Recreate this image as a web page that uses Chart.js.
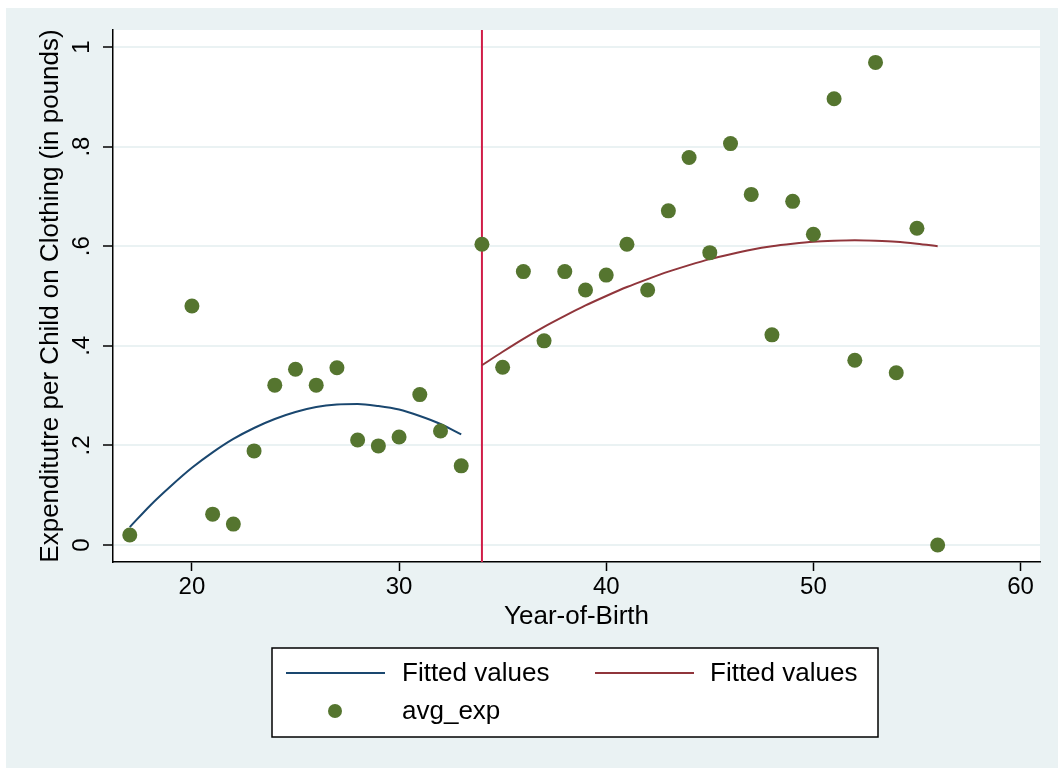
<!DOCTYPE html>
<html>
<head>
<meta charset="utf-8">
<script src="https://cdn.jsdelivr.net/npm/chart.js@4/dist/chart.umd.min.js"></script>
<style>
  html, body { margin: 0; padding: 0; background: #fff; }
  #wrap { width: 1058px; height: 768px; }
</style>
</head>
<body>
<div id="wrap"><canvas id="chart" width="1058" height="768"></canvas></div>
<script>
// data
const birthYears = [17, 20, 21, 22, 23, 24, 25, 26, 27, 28, 29, 30, 31, 32, 33,
  34, 35, 36, 37, 38, 39, 40, 41, 42, 43, 44, 45, 46, 47, 48, 49, 50, 51, 52, 53, 54, 55, 56];
const avgExp = [0.020, 0.480, 0.062, 0.042, 0.189, 0.321, 0.353, 0.321, 0.356, 0.211, 0.199, 0.217, 0.302, 0.229, 0.159,
  0.604, 0.357, 0.549, 0.410, 0.549, 0.512, 0.542, 0.604, 0.512, 0.671, 0.778, 0.587, 0.806, 0.704, 0.422,
  0.690, 0.624, 0.896, 0.371, 0.969, 0.346, 0.636, 0.000];

const fitYearsLeft = [17, 18, 19, 20, 21, 22, 23, 24, 25, 26, 27, 28, 29, 30, 31, 32, 33];
const fitLeft = [0.036, 0.080, 0.119, 0.155, 0.186, 0.213, 0.235, 0.253, 0.267, 0.277, 0.282, 0.283,
  0.279, 0.272, 0.259, 0.243, 0.222];

const fitYearsRight = [34, 35, 36, 37, 38, 39, 40, 41, 42, 43, 44, 45, 46, 47, 48, 49, 50, 51, 52, 53, 54, 55, 56];
const fitRight = [0.361, 0.388, 0.414, 0.438, 0.460, 0.481, 0.500, 0.518, 0.534, 0.549, 0.562, 0.574,
  0.584, 0.593, 0.600, 0.605, 0.609, 0.611, 0.612, 0.611, 0.609, 0.605, 0.600];

const cutoffYear = 34;
const xTicks = [20, 30, 40, 50, 60];
const yTicks = [0, 0.2, 0.4, 0.6, 0.8, 1];
const yTickLabels = ['0', '.2', '.4', '.6', '.8', '1'];

const FONT = "'Liberation Sans', Arial, sans-serif";
const BLUE = '#1a476f';
const MAROON = '#90353b';
const GREEN = '#55752f';
const XLINE = '#d01c47';
const BG = '#eaf2f3';

function pairs(xs, ys) {
  return xs.map((x, i) => ({ x: x, y: ys[i] }));
}

const bgPlugin = {
  id: 'bg',
  beforeDraw(chart) {
    const ctx = chart.ctx, a = chart.chartArea;
    ctx.save();
    ctx.fillStyle = '#fff';
    ctx.fillRect(0, 0, chart.width, chart.height);
    ctx.fillStyle = BG;
    ctx.fillRect(6, 8, chart.width - 6, chart.height - 8);
    ctx.fillStyle = '#fff';
    ctx.fillRect(a.left, a.top, a.right - a.left, a.bottom - a.top);
    ctx.restore();
  }
};

const cutoffPlugin = {
  id: 'cutoff',
  beforeDatasetsDraw(chart) {
    const ctx = chart.ctx, a = chart.chartArea;
    const px = chart.scales.x.getPixelForValue(cutoffYear);
    ctx.save();
    ctx.strokeStyle = XLINE;
    ctx.lineWidth = 2;
    ctx.beginPath();
    ctx.moveTo(px, a.top);
    ctx.lineTo(px, a.bottom);
    ctx.stroke();
    ctx.restore();
  }
};

// stata style rotated y labels + the legend box
const extrasPlugin = {
  id: 'extras',
  afterDraw(chart) {
    const ctx = chart.ctx, y = chart.scales.y;
    ctx.save();
    ctx.fillStyle = '#000';
    ctx.font = '24px ' + FONT;
    ctx.textAlign = 'center';
    ctx.textBaseline = 'alphabetic';
    yTicks.forEach((v, i) => {
      ctx.save();
      ctx.translate(89, y.getPixelForValue(v));
      ctx.rotate(-Math.PI / 2);
      ctx.fillText(yTickLabels[i], 0, 0);
      ctx.restore();
    });

    // legend
    const bx = 272, by = 648, bw = 606, bh = 89;
    ctx.fillStyle = '#fff';
    ctx.fillRect(bx, by, bw, bh);
    ctx.strokeStyle = '#000';
    ctx.lineWidth = 1.5;
    ctx.strokeRect(bx, by, bw, bh);

    ctx.lineWidth = 2;
    ctx.strokeStyle = BLUE;
    ctx.beginPath(); ctx.moveTo(286, 673); ctx.lineTo(385, 673); ctx.stroke();
    ctx.strokeStyle = MAROON;
    ctx.beginPath(); ctx.moveTo(595, 673); ctx.lineTo(694, 673); ctx.stroke();
    ctx.fillStyle = GREEN;
    ctx.beginPath(); ctx.arc(335, 711, 7, 0, Math.PI * 2); ctx.fill();

    ctx.fillStyle = '#000';
    ctx.font = '26px ' + FONT;
    ctx.textAlign = 'left';
    ctx.textBaseline = 'middle';
    ctx.fillText(chart.data.datasets[1].label, 402, 674);
    ctx.fillText(chart.data.datasets[2].label, 710, 674);
    ctx.fillText(chart.data.datasets[0].label, 402, 712);
    ctx.restore();
  }
};

new Chart(document.getElementById('chart'), {
  type: 'scatter',
  data: {
    datasets: [
      {
        label: 'avg_exp',
        data: pairs(birthYears, avgExp),
        backgroundColor: GREEN,
        borderWidth: 0,
        pointRadius: 7.5,
        order: 0
      },
      {
        label: 'Fitted values',
        type: 'line',
        data: pairs(fitYearsLeft, fitLeft),
        borderColor: BLUE,
        borderWidth: 2,
        pointRadius: 0,
        cubicInterpolationMode: 'monotone',
        fill: false,
        order: 1
      },
      {
        label: 'Fitted values',
        type: 'line',
        data: pairs(fitYearsRight, fitRight),
        borderColor: MAROON,
        borderWidth: 2,
        pointRadius: 0,
        cubicInterpolationMode: 'monotone',
        fill: false,
        order: 2
      }
    ]
  },
  options: {
    responsive: false,
    animation: false,
    layout: { padding: { top: 30, right: 18, bottom: 136, left: 0 } },
    plugins: { legend: { display: false }, tooltip: { enabled: false } },
    scales: {
      x: {
        type: 'linear',
        min: 16.19,
        max: 60.94,
        afterBuildTicks: (s) => { s.ticks = xTicks.map(v => ({ value: v })); },
        afterFit: (s) => { s.height = 70; },
        grid: { drawOnChartArea: false, drawTicks: true, tickLength: 9, tickColor: '#000', tickWidth: 1.5 },
        border: { color: '#000', width: 1.5 },
        ticks: { color: '#000', font: { family: FONT, size: 24 }, padding: 2, maxRotation: 0 },
        title: {
          display: true,
          text: 'Year-of-Birth',
          color: '#000',
          font: { family: FONT, size: 26 },
          padding: { top: 0, bottom: 0 }
        }
      },
      y: {
        min: -0.0341,
        max: 1.0341,
        afterBuildTicks: (s) => { s.ticks = yTicks.map(v => ({ value: v })); },
        afterFit: (s) => { s.width = 113; },
        grid: { color: BG, lineWidth: 2, drawTicks: true, tickLength: 10, tickColor: '#000', tickWidth: 1.5 },
        border: { color: '#000', width: 1.5 },
        ticks: { display: false },
        title: {
          display: true,
          text: 'Expenditutre per Child on Clothing (in pounds)',
          color: '#000',
          font: { family: FONT, size: 26 },
          padding: { top: 35, bottom: 0 }
        }
      }
    }
  },
  plugins: [bgPlugin, cutoffPlugin, extrasPlugin]
});
</script>
</body>
</html>
